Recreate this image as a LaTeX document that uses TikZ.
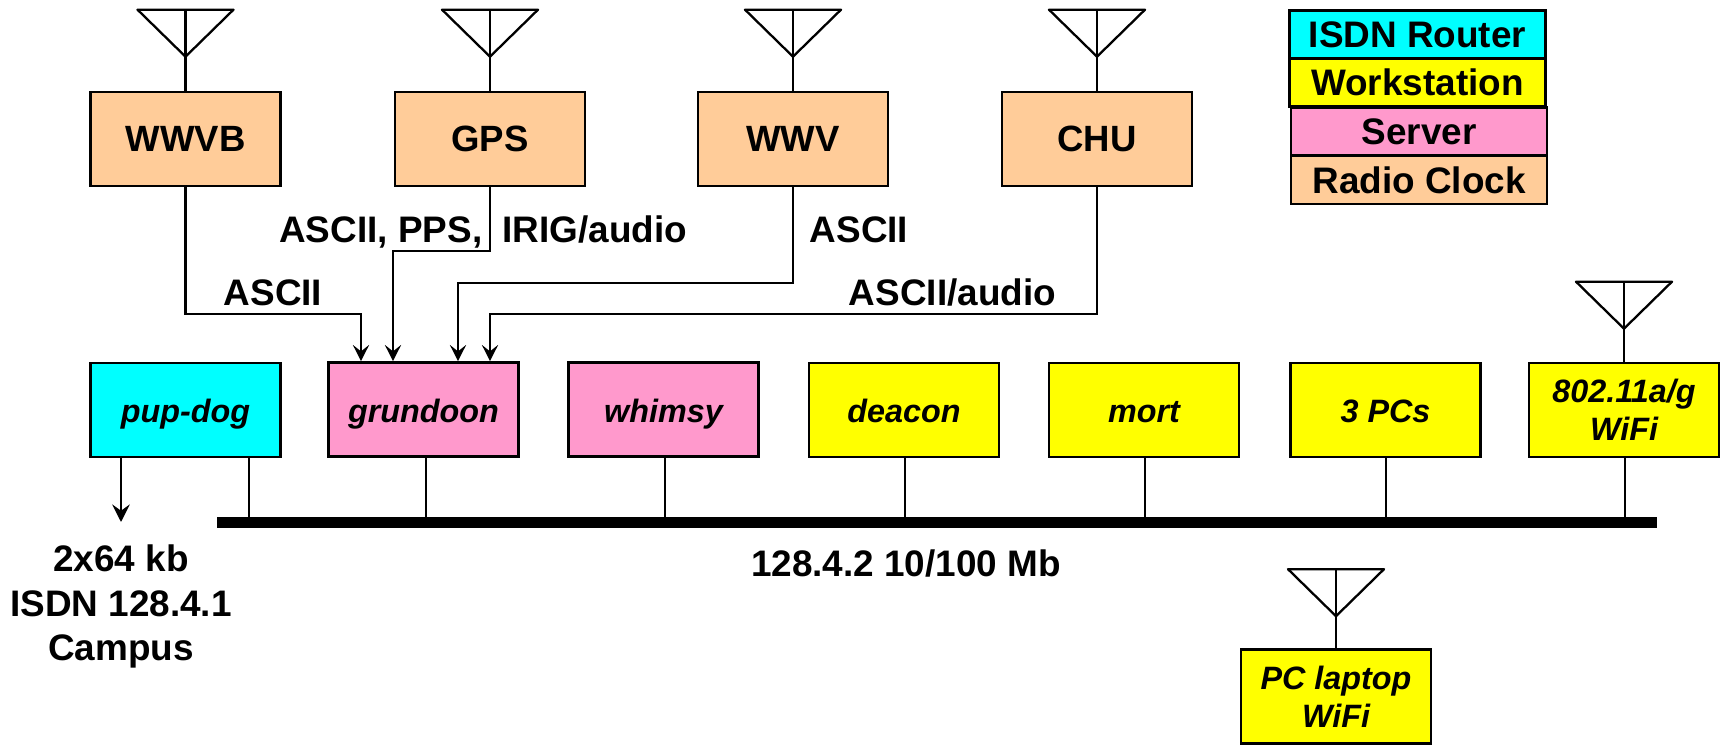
\documentclass[tikz,border=0pt]{standalone}
\usepackage{fontspec}
\setmainfont{Liberation Sans}
\usetikzlibrary{arrows.meta}

\tikzset{
    box/.style={draw=black, line width=0.75pt, minimum width=1.9cm, minimum height=0.94cm, align=center, inner sep=0pt},
    clockbox/.style={box, fill=clockcol, font=\fontsize{10.4}{12.5}\selectfont\bfseries},
    hostbox/.style={box, text height=7.3pt, text depth=0pt, font=\fontsize{9.2}{10.7}\selectfont\bfseries\itshape},
    twoline/.style={text height=17.4pt, text depth=0pt},
    keybox/.style={draw=black, line width=0.75pt, minimum width=2.56cm, minimum height=0.48cm, inner sep=0pt, font=\fontsize{10.5}{12.6}\selectfont\bfseries},
    lab/.style={anchor=base, inner sep=0pt, font=\fontsize{10.5}{12.6}\selectfont\bfseries},
    wire/.style={line width=0.65pt},
    feed/.style={wire, -{Stealth[length=4.6pt,width=4.6pt,inset=1.8pt]}}
}
\definecolor{clockcol}{HTML}{FFCC99}
\definecolor{servercol}{HTML}{FF99CC}
\definecolor{routercol}{HTML}{00FFFF}
\definecolor{stationcol}{HTML}{FFFF00}

\begin{document}
\begin{tikzpicture}
    \useasboundingbox (0,0) rectangle (17.22,7.44);

    % RADIO CLOCKS
    \foreach \n/\t/\x in {wwvb/WWVB/1.855,gps/GPS/4.90,wwv/WWV/7.93,chu/CHU/10.97}
        \node[clockbox] (\n) at (\x,6.05) {\t};

    % HOSTS
    \node[hostbox, fill=routercol] (pupdog) at (1.855,3.34) {pup-dog};
    \node[hostbox, fill=servercol] (grundoon) at (4.235,3.345) {grundoon};
    \node[hostbox, fill=servercol] (whimsy) at (6.635,3.345) {whimsy};
    \foreach \n/\t/\x in {deacon/deacon/9.04,mort/mort/11.44,pcs/3 PCs/13.855}
        \node[hostbox, fill=stationcol] (\n) at (\x,3.34) {\t};
    \node[hostbox, twoline, fill=stationcol] (wifi) at (16.24,3.34) {802.11a/g\\WiFi};
    \node[hostbox, twoline, fill=stationcol] (laptop) at (13.36,0.475) {PC laptop\\WiFi};

    % ANTENNAS
    \foreach \n/\h in {wwvb/0.34,gps/0.34,wwv/0.34,chu/0.34,wifi/0.33,laptop/0.32} {
        \draw[wire] (\n.north) -- ++(0,\h) coordinate (\n-tip) -- ++(0,0.47);
        \draw[wire, line join=round] (\n-tip) -- ++(-0.48,0.47) -- ++(0.96,0) -- cycle;
    }

    % CLOCK FEEDS
    \coordinate (bendA) at (3.61,4.30);
    \coordinate (bendB) at (3.93,4.93);
    \coordinate (bendC) at (4.58,4.61);
    \coordinate (bendD) at (4.90,4.30);
    \draw[feed] (wwvb.south) |- (bendA) -- (bendA |- grundoon.north);
    \draw[feed] (gps.south) |- (bendB) -- (bendB |- grundoon.north);
    \draw[feed] (wwv.south) |- (bendC) -- (bendC |- grundoon.north);
    \draw[feed] (chu.south) |- (bendD) -- (bendD |- grundoon.north);

    \node[lab] (l1) at (2.73,4.39) {ASCII};
    \node[lab, anchor=base east] (l2) at (4.83,5.02) {ASCII, PPS,};
    \node[lab, anchor=base west] (l3) at (5.02,5.02) {IRIG/audio};
    \node[lab] (l4) at (8.59,5.02) {ASCII};
    \node[lab] (l5) at (9.525,4.39) {ASCII/audio};

    % BUS
    \coordinate (busL) at (2.17,2.215);
    \coordinate (busR) at (16.57,2.215);
    \draw[line width=3.1pt] (busL) -- (busR);
    \foreach \n/\x in {pupdog/2.49,grundoon/4.26,whimsy/6.65,deacon/9.05,mort/11.45,pcs/13.86,wifi/16.25}
        \draw[wire] (\n.south -| \x,0) -- (busL -| \x,0);
    \node[lab] (netlab) at (9.06,1.68) {128.4.2 10/100 Mb};

    % ISDN LINK
    \coordinate (isdnend) at (1.21,2.22);
    \draw[wire, -{Stealth[length=5pt,width=5pt,inset=1.8pt]}] (pupdog.south -| isdnend) -- (isdnend);
    \node[lab, align=center, anchor=north, font=\fontsize{10.5}{12.7}\selectfont\bfseries] (isdn) at (1.21,2.00) {2x64 kb\\ISDN 128.4.1\\Campus};

    % KEY
    \node[keybox, fill=routercol] (key1) at (14.175,7.095) {ISDN Router};
    \node[keybox, fill=stationcol] (key2) at (14.175,6.615) {Workstation};
    \node[keybox, fill=servercol] (key3) at (14.19,6.125) {Server};
    \node[keybox, fill=clockcol] (key4) at (14.19,5.64) {Radio Clock};
\end{tikzpicture}
\end{document}
